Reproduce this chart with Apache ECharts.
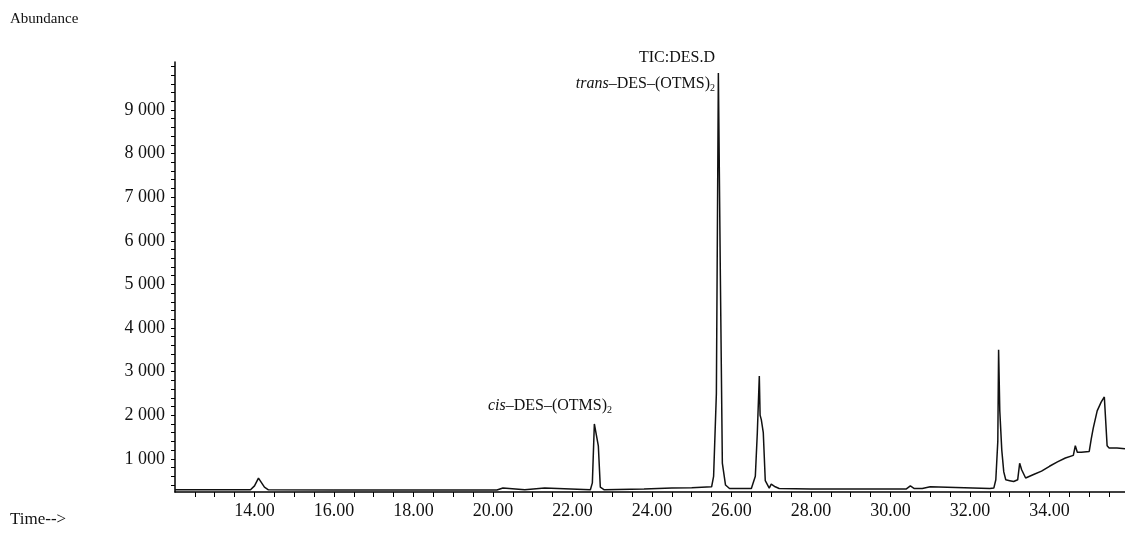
<!DOCTYPE html>
<html><head><meta charset="utf-8">
<script src="https://cdn.jsdelivr.net/npm/echarts@6/dist/echarts.min.js"></script>
<style>html,body{margin:0;padding:0;background:#fff}#c{width:1125px;height:535px}</style>
</head><body><div id="c"></div>
<script>
const times = [12.0,13.9,14.0,14.1,14.15,14.25,14.35,16.0,20.1,20.15,20.25,20.3,20.8,20.85,21.3,21.35,22.45,22.5,22.55,22.6,22.65,22.7,22.8,23.8,24.5,25.0,25.5,25.55,25.62,25.67,25.72,25.77,25.85,25.95,26.5,26.6,26.65,26.7,26.72,26.75,26.8,26.85,26.95,27.0,27.1,27.2,28.0,30.0,30.4,30.5,30.6,30.8,30.85,31.0,31.05,32.5,32.6,32.65,32.7,32.72,32.75,32.8,32.85,32.9,33.0,33.1,33.2,33.25,33.3,33.4,33.6,33.8,34.0,34.2,34.4,34.6,34.65,34.7,34.75,34.8,35.0,35.05,35.1,35.2,35.3,35.38,35.42,35.45,35.5,35.7,35.9];
const abundance = [290,290,380,560,520,350,290,285,285,330,330,290,290,330,330,290,290,450,1800,1780,1300,350,290,310,330,340,360,600,2500,9850,5200,900,400,320,320,600,1600,2900,2000,1900,1600,500,330,420,360,320,310,310,310,380,320,320,360,360,320,320,330,520,1400,3500,2100,1200,700,520,500,480,520,900,750,560,640,720,830,930,1020,1080,1300,1150,1120,1150,1170,1450,1700,2100,2300,2420,2420,1300,1250,1250,1230];
const yLabels = [1000,2000,3000,4000,5000,6000,7000,8000,9000];
const xLabels = [14,16,18,20,22,24,26,28,30,32,34];

const data = times.map((t,i)=>[t,abundance[i]]);
const yTicks=[]; for(let v=400; v<=10000; v+=200) yTicks.push(v);
const xTicks=[]; for(let v=12.5; v<=35.5; v+=0.5) xTicks.push(v);
const F = '"Liberation Serif","DejaVu Serif",serif';
const chart = echarts.init(document.getElementById('c'));
chart.setOption({
  animation:false,
  grid:{left:175,top:62,right:0,bottom:43},
  xAxis:{type:'value',min:12,max:35.9,
    axisLine:{lineStyle:{color:'#000',width:1.5}},
    axisTick:{customValues:xTicks,length:5,lineStyle:{color:'#000'}},
    axisLabel:{customValues:xLabels,formatter:v=>v.toFixed(2),color:'#111',fontFamily:F,fontSize:18,margin:10},
    splitLine:{show:false}},
  yAxis:{type:'value',min:240,max:10100,
    axisLine:{show:true,lineStyle:{color:'#000',width:1.5}},
    axisTick:{show:true,customValues:yTicks,length:4,lineStyle:{color:'#000'}},
    axisLabel:{customValues:yLabels,formatter:v=>(v/1000)+' 000',color:'#111',fontFamily:F,fontSize:18,margin:10},
    splitLine:{show:false}},
  series:[{type:'line',data:data,symbol:'none',lineStyle:{color:'#111',width:1.5}}],
  graphic:[
    {type:'text',left:10,top:12,style:{text:'Abundance',font:'15px '+F,fill:'#111'}},
    {type:'text',left:10,top:511,style:{text:'Time-->',font:'17px '+F,fill:'#111'}},
    {type:'text',right:410,top:50,style:{text:'TIC:DES.D',font:'16px '+F,fill:'#111'}},
    {type:'text',right:410,top:76,style:{rich:{i:{fontFamily:F,fontSize:16,fontStyle:'italic',fill:'#111'},n:{fontFamily:F,fontSize:16,fill:'#111'},s:{fontFamily:F,fontSize:10,fill:'#111',verticalAlign:'bottom',padding:[8,0,0,0]}},text:'{i|trans}{n|–DES–(OTMS)}{s|2}'}},
    {type:'text',right:513,top:398,style:{rich:{i:{fontFamily:F,fontSize:16,fontStyle:'italic',fill:'#111'},n:{fontFamily:F,fontSize:16,fill:'#111'},s:{fontFamily:F,fontSize:10,fill:'#111',verticalAlign:'bottom',padding:[8,0,0,0]}},text:'{i|cis}{n|–DES–(OTMS)}{s|2}'}}
  ]
});
</script></body></html>
